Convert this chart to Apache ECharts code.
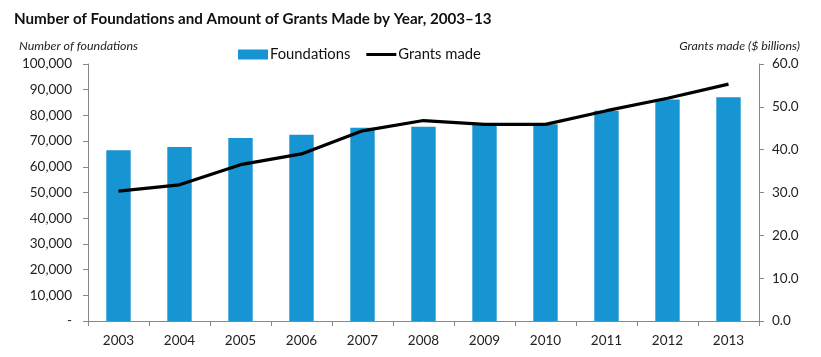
<!DOCTYPE html>
<html><head><meta charset="utf-8">
<script src="https://cdn.jsdelivr.net/npm/echarts@6/dist/echarts.min.js"></script>
<style>html,body{margin:0;padding:0;background:#fff}#c{width:821px;height:357px}</style>
</head><body><div id="c"></div>
<script>
const years = ['2003','2004','2005','2006','2007','2008','2009','2010','2011','2012','2013'];
const foundations = [66400, 67700, 71200, 72500, 75200, 75600, 76500, 76600, 81800, 86200, 87100];
const grants = [30.3, 31.8, 36.5, 39.0, 44.4, 46.8, 45.9, 45.9, 49.1, 52.0, 55.3];
const leftTicks = [0, 100000, 10000];
const rightTicks = [0, 60, 10];

const F = 'Lato, "Open Sans", "Noto Sans", sans-serif';
const chart = echarts.init(document.getElementById('c'), null, {renderer:'canvas'});
chart.setOption({
  animation: false,
  textStyle: {fontFamily: F},
  title: [
    {text: 'Number of Foundations and Amount of Grants Made by Year, 2003–13', left: 9, top: 7,
     textStyle: {fontFamily: F, fontSize: 15.2, fontWeight: 'bold', color: '#111'}},
    {text: 'Number of foundations', left: 14, top: 35,
     textStyle: {fontFamily: F, fontSize: 12.4, fontStyle: 'italic', fontWeight: 'normal', color: '#222'}},
    {text: 'Grants made ($ billions)', right: 16, top: 35,
     textStyle: {fontFamily: F, fontSize: 12.4, fontStyle: 'italic', fontWeight: 'normal', color: '#222'}}
  ],
  legend: {
    left: 233, top: 42, itemGap: 16, itemWidth: 30, itemHeight: 10,
    textStyle: {fontFamily: F, fontSize: 14.8, color: '#111', padding: [0,0,0,-3]},
    data: [{name: 'Foundations', icon: 'rect'},
           {name: 'Grants made', icon: 'path://M0,0 L30,0 L30,3 L0,3 Z', itemStyle:{color:'#000'}}]
  },
  grid: {left: 88, right: 62, top: 64, bottom: 36},
  xAxis: {
    type: 'category', data: years,
    axisLine: {lineStyle: {color: '#888', width: 1}},
    axisTick: {show: true, length: 5, lineStyle: {color: '#888'}},
    axisLabel: {fontFamily: F, fontSize: 13.5, color: '#222', margin: 13}
  },
  yAxis: [
    {type: 'value', min: leftTicks[0], max: leftTicks[1], interval: leftTicks[2],
     axisLine: {show: true, lineStyle: {color: '#888'}},
     axisTick: {show: true, length: 5, lineStyle: {color: '#888'}},
     splitLine: {show: false},
     axisLabel: {fontFamily: F, fontSize: 13.5, color: '#222', margin: 16,
       formatter: v => v === 0 ? '-' : v.toLocaleString('en-US')}},
    {type: 'value', min: rightTicks[0], max: rightTicks[1], interval: rightTicks[2],
     axisLine: {show: true, lineStyle: {color: '#888'}},
     axisTick: {show: true, length: 5, lineStyle: {color: '#888'}},
     splitLine: {show: false},
     axisLabel: {fontFamily: F, fontSize: 13.5, color: '#222', margin: 13,
       formatter: v => v.toFixed(1)}}
  ],
  series: [
    {name: 'Foundations', type: 'bar', data: foundations, barWidth: '40%', yAxisIndex: 0,
     itemStyle: {color: '#1795d3'}},
    {name: 'Grants made', type: 'line', data: grants, yAxisIndex: 1, symbol: 'none',
     lineStyle: {color: '#000', width: 3.2}, itemStyle: {color: '#000'}}
  ]
});
</script></body></html>
